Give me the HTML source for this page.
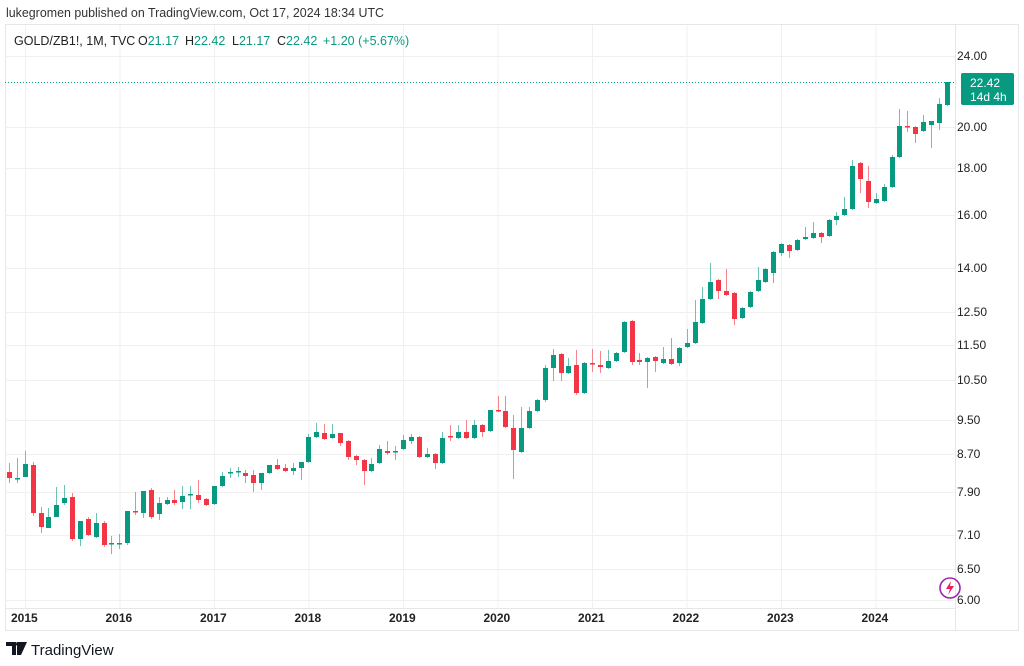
<!DOCTYPE html>
<html><head><meta charset="utf-8"><style>
body{margin:0;background:#fff;width:1024px;height:661px;overflow:hidden;font-family:"Liberation Sans",sans-serif}
</style></head><body>
<svg id="s" width="1024" height="661" xmlns="http://www.w3.org/2000/svg" font-family="Liberation Sans, sans-serif">
<rect width="1024" height="661" fill="#fff"/>
<text x="6" y="17" font-size="13" fill="#333" textLength="378" lengthAdjust="spacingAndGlyphs">lukegromen published on TradingView.com, Oct 17, 2024 18:34 UTC</text>
<rect x="5.5" y="24.5" width="1013" height="606" fill="none" stroke="#e6e6e6"/>
<g id="grid" stroke="#f0f0f0" stroke-width="1"></g>
<line x1="5" y1="608.5" x2="955" y2="608.5" stroke="#e6e6e6"/>
<line x1="955.5" y1="25" x2="955.5" y2="630" stroke="#e6e6e6"/>
<g font-size="12.5">
<text x="14" y="45" fill="#222">GOLD/ZB1!, 1M, TVC</text>
<text x="138" y="45" fill="#222">O<tspan fill="#089981">21.17</tspan></text>
<text x="185" y="45" fill="#222">H<tspan fill="#089981">22.42</tspan></text>
<text x="232" y="45" fill="#222">L<tspan fill="#089981">21.17</tspan></text>
<text x="277" y="45" fill="#222">C<tspan fill="#089981">22.42</tspan></text>
<text x="323" y="45" fill="#089981">+1.20 (+5.67%)</text>
</g>
<g id="yl" font-size="12" fill="#222"></g>
<g id="xl" font-size="12" font-weight="bold" fill="#222"></g>
<line x1="5" y1="82.5" x2="955" y2="82.5" stroke="#089981" stroke-dasharray="1,2" stroke-width="1"/>
<g id="c"></g>
<rect x="961" y="73" width="53" height="32" rx="2" fill="#089981"/>
<text x="970" y="87" font-size="12" fill="#fff">22.42</text>
<text x="970" y="101" font-size="12" fill="#fff">14d 4h</text>
<circle cx="950" cy="588" r="10" fill="none" stroke="#9c27b0" stroke-width="1.6"/>
<path d="M951 581 L946 589 L950 589 L948 595 L954 586 L950 586 Z" fill="#e91e63"/>
<path d="M6 642 H16 V655 H12 V646 H6 Z M17 642 H27 L21 655 H17 Z" fill="#131722"/>
<circle cx="18" cy="644" r="2" fill="#131722"/>
<text x="31" y="655" font-size="15" fill="#131722">TradingView</text>
</svg>
<script>
var ns="http://www.w3.org/2000/svg";
function el(p,t,a,txt){var e=document.createElementNS(ns,t);for(var k in a)e.setAttribute(k,a[k]);if(txt)e.textContent=txt;document.getElementById(p).appendChild(e);}
var ys=[["24.00",56],["20.00",127],["18.00",168],["16.00",215],["14.00",268],["12.50",312],["11.50",345],["10.50",380],["9.50",420],["8.70",454],["7.90",492],["7.10",535],["6.50",569],["6.00",600]];
ys.forEach(function(v){el("grid","line",{x1:5,x2:955,y1:v[1]+.5,y2:v[1]+.5});el("yl","text",{x:957,y:v[1]+4},v[0]);});
var yrs=["2015","2016","2017","2018","2019","2020","2021","2022","2023","2024"];
yrs.forEach(function(y,i){var x=25+i*94.5;el("grid","line",{x1:x+.5,x2:x+.5,y1:25,y2:608});el("xl","text",{x:x-14,y:622},y);});
var d=[[472,478,463,483],[478,478,458,483],[477,464,451,477],[465,513,462,516],[513,527,507,533],[528,517,508,528],[517,505,487,517],[503,498,485,505],[497,539,493,541],[539,521,521,546],[519,535,517,536],[537,523,513,538],[523,545,521,547],[544,543,536,554],[544,543,534,549],[543,511,511,545],[511,512,492,515],[513,491,491,518],[490,517,488,519],[514,503,497,520],[504,500,497,505],[500,503,490,505],[502,496,486,509],[495,494,486,509],[495,500,480,503],[499,505,498,506],[504,486,486,505],[486,476,472,487],[473,472,468,478],[472,471,467,477],[473,476,470,483],[475,483,470,492],[483,473,473,490],[473,465,465,474],[465,469,459,470],[468,471,464,472],[471,468,463,475],[468,462,462,480],[462,437,434,463],[437,432,423,438],[433,439,424,440],[438,434,424,439],[433,443,433,446],[441,457,440,460],[456,460,455,465],[460,471,459,485],[471,464,458,472],[463,449,445,464],[451,453,441,455],[452,451,446,460],[449,440,435,450],[441,437,434,444],[437,457,436,458],[457,454,448,458],[454,463,453,469],[463,438,432,464],[436,437,425,441],[438,432,425,439],[432,438,420,439],[438,425,420,439],[425,432,424,437],[431,410,410,432],[410,411,396,412],[411,427,396,428],[428,450,415,479],[452,428,407,453],[428,411,407,429],[411,400,399,412],[400,368,365,402],[368,355,349,381],[354,373,353,381],[373,366,358,374],[365,393,350,395],[393,363,362,394],[363,364,349,372],[365,367,351,373],[368,361,350,369],[361,353,352,362],[352,322,321,353],[321,362,320,365],[360,362,353,365],[362,358,357,388],[357,361,356,372],[363,359,347,364],[359,364,338,365],[363,348,347,366],[347,343,329,348],[343,322,300,344],[323,299,287,324],[299,282,263,300],[280,291,279,299],[291,295,269,296],[293,319,292,325],[318,308,307,319],[307,292,291,308],[291,280,267,292],[282,269,268,283],[273,252,251,283],[253,244,243,256],[245,251,244,258],[250,240,239,251],[239,237,227,240],[238,233,222,239],[233,237,232,243],[236,220,219,237],[220,216,212,225],[215,209,197,216],[209,166,160,210],[163,179,162,193],[181,202,166,208],[203,199,193,204],[201,187,184,202],[187,157,155,188],[157,126,109,158],[126,127,111,132],[127,134,126,143],[131,122,115,132],[125,121,121,148],[123,104,98,130],[105,82,82,106]];
d.forEach(function(c,i){var x=Math.round(9+i*7.88);var g=c[1]<=c[0];var col=g?"#089981":"#f23645";var wc=g?"#6cc3b2":"#f7838c";
el("c","line",{x1:x+.5,x2:x+.5,y1:c[2],y2:c[3],stroke:wc,"stroke-width":1});
var t=Math.min(c[0],c[1]),h=Math.max(1.5,Math.abs(c[1]-c[0]));
el("c","rect",{x:x-2,y:t,width:5,height:h,fill:col});});
</script>
</body></html>
